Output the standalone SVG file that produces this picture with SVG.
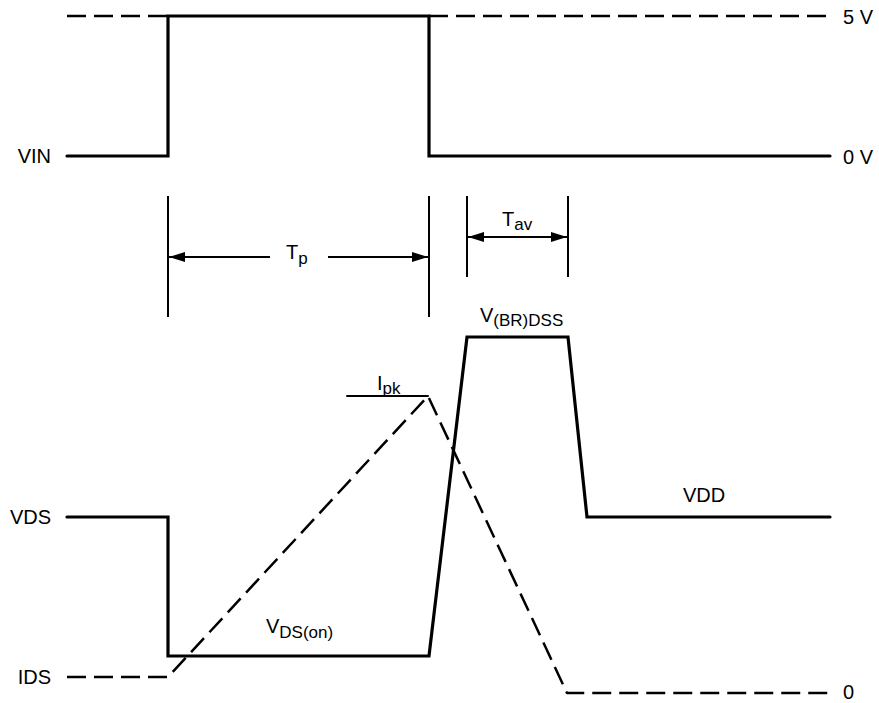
<svg xmlns="http://www.w3.org/2000/svg" width="879" height="703" viewBox="0 0 879 703">
<style>
  .wave { fill: none; stroke: #000; stroke-width: 3.2; stroke-linejoin: miter; stroke-linecap: round; }
  .dash { fill: none; stroke: #000; stroke-width: 2.5; stroke-dasharray: 19 8; stroke-linejoin: round; }
  .thin { fill: none; stroke: #000; stroke-width: 2; stroke-linecap: round; }
  .dim { fill: none; stroke: #000; stroke-width: 2; }
  text { font-family: "Liberation Sans", Arial, sans-serif; font-size: 20px; fill: #000; }
  .sub { font-size: 17px; }
</style>
<defs>
  <marker id="arrow" viewBox="0 0 16 10" refX="16" refY="5" markerWidth="16" markerHeight="10" markerUnits="userSpaceOnUse" orient="auto-start-reverse">
    <path d="M0,0 L16,5 L0,10 z" fill="#000"/>
  </marker>
</defs>
<rect width="879" height="703" fill="#fff"/>

<g id="vin">
  <path class="dash" d="M67,16 H168 M429,16 H830"/>
  <path class="wave" d="M67,156 H168 V16 H429 V156 H830"/>
  <text x="51" y="163" text-anchor="end">VIN</text>
  <text x="843" y="24">5 V</text>
  <text x="843" y="164">0 V</text>
</g>

<g id="vds">
  <path class="wave" d="M67,517 H168 V656 H429 L467,337 H568 L587,517 H830"/>
  <text x="51" y="524" text-anchor="end">VDS</text>
  <text x="266" y="633">V<tspan class="sub" dy="5">DS(on)</tspan></text>
  <text x="480" y="322">V<tspan class="sub" dy="4">(BR)DSS</tspan></text>
  <text x="683" y="502">VDD</text>
</g>

<g id="ids">
  <path class="dash" d="M67,677 H168 L428,396 L567,693 H830"/>
  <path class="thin" d="M347,396 H428"/>
  <text x="51" y="684" text-anchor="end">IDS</text>
  <text x="377" y="390">I<tspan class="sub" dy="4">pk</tspan></text>
  <text x="843" y="699">0</text>
</g>

<g id="connectors">
  <path class="dim" d="M168,196 V317 M429,196 V317 M467,196 V277 M568,196 V277"/>
  <line class="dim" x1="270" y1="257" x2="169" y2="257" marker-end="url(#arrow)"/>
  <line class="dim" x1="328" y1="257" x2="428" y2="257" marker-end="url(#arrow)"/>
  <line class="dim" x1="468" y1="237" x2="567" y2="237" marker-start="url(#arrow)" marker-end="url(#arrow)"/>
</g>

<g id="tp-label">
  <text x="286" y="259">T<tspan class="sub" dy="5">p</tspan></text>
</g>
<g id="tav-label">
  <text x="502" y="226">T<tspan class="sub" dy="4">av</tspan></text>
</g>
</svg>
